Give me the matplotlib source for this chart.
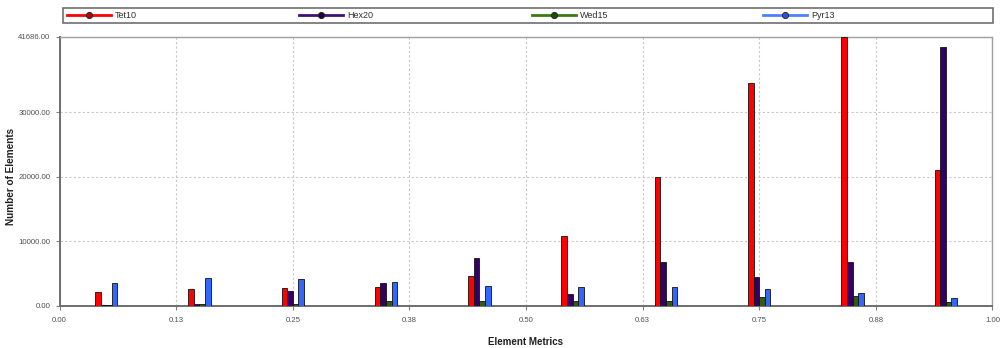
import numpy as np
import matplotlib
matplotlib.use("Agg")
import matplotlib.pyplot as plt
from matplotlib.lines import Line2D
from matplotlib.patches import Rectangle

####################################################
### Data

bins = [0.05, 0.15, 0.25, 0.35, 0.45, 0.55, 0.65, 0.75, 0.85, 0.95]
tet10 = [2200, 2600, 2850, 3000, 4700, 10850, 20040, 34600, 41686, 21080]
hex20 = [100, 300, 2330, 3500, 7500, 1800, 6800, 4550, 6780, 40090]
wed15 = [80, 300, 300, 780, 750, 750, 750, 1400, 1550, 670]
pyr13 = [3500, 4300, 4200, 3670, 3150, 3000, 3000, 2700, 2060, 1290]

series_names = ["Tet10", "Hex20", "Wed15", "Pyr13"]
bar_colors = ["#FF0000", "#330066", "#2F5F0A", "#3366FF"]
line_colors = ["#FF0000", "#40107A", "#3C7A12", "#4D80FF"]
marker_fill = ["#C00000", "#200040", "#1E4A06", "#2A55D0"]

x_ticks = [0.0, 0.125, 0.25, 0.375, 0.5, 0.625, 0.75, 0.875, 1.0]
x_tick_labels = ["0.00", "0.13", "0.25", "0.38", "0.50", "0.63", "0.75", "0.88", "1.00"]
y_max = 41686
y_ticks = [0, 10000, 20000, 30000, y_max]

####################################################
### Plot

plt.rcParams['font.family'] = ['Liberation Sans', 'DejaVu Sans']

fig = plt.figure(figsize=(10.02, 3.48), dpi=100)
ax = fig.add_axes([0.0594, 0.1207, 0.9311, 0.7730])

w = 0.006
all_series = [tet10, hex20, wed15, pyr13]
for k, vals in enumerate(all_series):
    ax.bar(np.array(bins) + (k - 1.5) * w, vals, width=w, color=bar_colors[k],
           edgecolor="#111111", linewidth=0.6, zorder=3)

ax.set_xlim(0, 1)
ax.set_ylim(0, y_max)
ax.set_xticks(x_ticks)
ax.set_xticklabels(x_tick_labels)
ax.set_yticks(y_ticks)
ax.set_yticklabels(["%.2f" % v for v in y_ticks])

ax.grid(True, color="#C8C8C8", linestyle=(0, (2, 2)), linewidth=0.8, zorder=0)
ax.tick_params(axis="both", labelsize=5.6, labelcolor="#505050", color="#808080",
               length=3, width=0.8, pad=5)
ax.tick_params(axis="y", pad=3.5)

for s in ["left", "bottom"]:
    ax.spines[s].set_color("#6E6E6E")
    ax.spines[s].set_linewidth(1.4)
for s in ["top", "right"]:
    ax.spines[s].set_color("#A0A0A0")
    ax.spines[s].set_linewidth(1.0)

ax.set_xlabel("Element Metrics", fontsize=7, fontweight="bold", labelpad=9,
              color="#202020")
fig.text(11 / 1002.0, 0.494, "Number of Elements", rotation=90, ha="center",
         va="center", fontsize=7.2, fontweight="bold", color="#202020")

# legend box across the top, entries spaced evenly
fig.patches.append(Rectangle((0.0629, 0.933), 0.928, 0.0448, transform=fig.transFigure,
                             facecolor="white", edgecolor="#707070", linewidth=1.2))
entry_x = [67, 299, 532, 763]
for k, name in enumerate(series_names):
    h = Line2D([0], [0], color=line_colors[k], lw=2, marker="o", markersize=4.5,
               markerfacecolor=marker_fill[k], markeredgecolor="#202020",
               markeredgewidth=0.6)
    leg = fig.legend([h], [name], loc="center left",
                     bbox_to_anchor=(entry_x[k] / 1002.0, 1 - 15.5 / 348.0),
                     frameon=False, fontsize=6.5, handlelength=4.9,
                     handletextpad=0.4, borderpad=0, borderaxespad=0)
    for t in leg.get_texts():
        t.set_color("#303030")

fig.savefig("out.png", dpi=100)
